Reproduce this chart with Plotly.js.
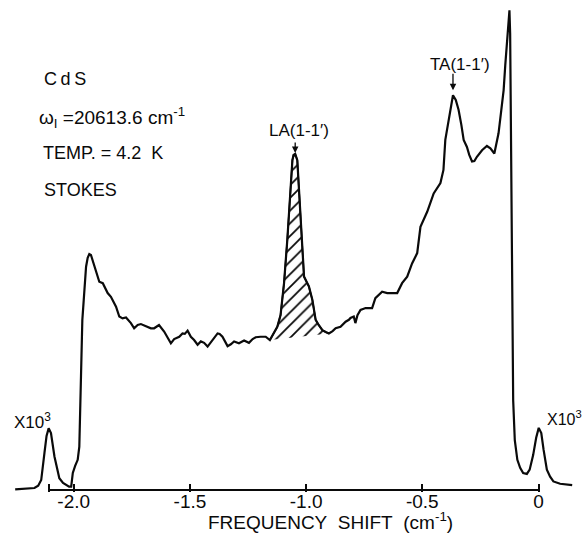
<!DOCTYPE html>
<html>
<head>
<meta charset="utf-8">
<script src="https://cdn.plot.ly/plotly-3.0.1.min.js"></script>
<style>
  html, body { margin: 0; padding: 0; background: #fff; }
  #chart { width: 583px; height: 533px; }
</style>
</head>
<body>
<div id="chart"></div>
<script>
// Stokes Brillouin spectrum of CdS (frequency shift in cm^-1, intensity in arbitrary units)
const shiftCm = [
  -2.252, -2.205, -2.169, -2.153, -2.140, -2.126, -2.117, -2.108, -2.098, -2.083,
  -2.072, -2.062, -2.046, -2.033, -2.020, -2.011, -2.004, -1.994, -1.983, -1.976,
  -1.973, -1.968, -1.963, -1.957, -1.947, -1.940, -1.933, -1.926, -1.919, -1.905,
  -1.890, -1.875, -1.854, -1.840, -1.818, -1.804, -1.790, -1.775, -1.754, -1.740,
  -1.725, -1.711, -1.690, -1.668, -1.654, -1.643, -1.633, -1.611, -1.595, -1.582,
  -1.568, -1.546, -1.532, -1.522, -1.510, -1.496, -1.482, -1.467, -1.453, -1.439,
  -1.424, -1.403, -1.381, -1.372, -1.360, -1.338, -1.324, -1.310, -1.289, -1.267,
  -1.246, -1.230, -1.217, -1.196, -1.174, -1.156, -1.140, -1.124, -1.110, -1.095,
  -1.081, -1.067, -1.059, -1.054, -1.047, -1.038, -1.031, -1.019, -1.009, -0.998,
  -0.988, -0.973, -0.959, -0.946, -0.930, -0.916, -0.902, -0.886, -0.873, -0.852,
  -0.838, -0.830, -0.816, -0.809, -0.795, -0.788, -0.779, -0.766, -0.744, -0.716,
  -0.702, -0.689, -0.673, -0.651, -0.628, -0.608, -0.587, -0.565, -0.544, -0.522,
  -0.508, -0.479, -0.451, -0.422, -0.409, -0.401, -0.390, -0.379, -0.368, -0.356,
  -0.344, -0.332, -0.322, -0.308, -0.298, -0.286, -0.276, -0.265, -0.243, -0.222,
  -0.207, -0.190, -0.182, -0.172, -0.160, -0.150, -0.143, -0.136, -0.129, -0.125,
  -0.122, -0.119, -0.116, -0.113, -0.109, -0.102, -0.091, -0.079, -0.066, -0.050,
  -0.038, -0.023, -0.010, 0.001, 0.012, 0.022, 0.036, 0.050, 0.064, 0.093,
  0.128, 0.145
];
const intensity = [
  0.1, 0.2, 0.4, 0.9, 2.1, 7.9, 11.5, 13.1, 12.1, 7.1,
  4.3, 2.5, 1.5, 1.1, 0.7, 0.7, 3.6, 5.1, 6.4, 9.2,
  14.9, 28.4, 36.2, 40.4, 47.5, 49.4, 50.2, 50.0, 48.9, 46.4,
  44.3, 44.0, 41.9, 41.1, 39.0, 36.9, 36.5, 36.7, 35.5, 34.4,
  35.1, 35.3, 34.9, 34.4, 34.4, 34.8, 35.1, 33.7, 32.3, 31.2,
  32.1, 32.6, 33.3, 33.2, 33.9, 32.6, 31.9, 30.9, 31.6, 31.3,
  30.5, 31.9, 33.3, 33.2, 32.6, 30.6, 31.0, 31.6, 31.2, 31.8,
  31.3, 32.1, 32.5, 32.6, 32.6, 31.9, 33.2, 34.7, 37.2, 44.0,
  53.2, 65.3, 70.2, 71.3, 71.5, 70.2, 63.8, 53.2, 45.4, 44.3,
  43.3, 40.4, 36.2, 35.1, 34.0, 33.6, 33.3, 33.8, 34.4, 34.7,
  35.5, 35.8, 36.2, 36.6, 36.9, 35.5, 37.2, 38.3, 38.7, 38.7,
  40.8, 41.5, 42.2, 41.9, 41.9, 41.9, 44.0, 45.4, 48.2, 50.4,
  56.0, 59.2, 63.1, 65.3, 68.1, 74.5, 77.7, 80.9, 84.0, 83.0,
  80.9, 77.7, 74.5, 73.0, 71.3, 69.9, 70.0, 70.9, 72.3, 73.2,
  72.7, 71.6, 73.4, 75.9, 80.9, 85.1, 90.4, 95.0, 101.4, 102.1,
  97.2, 78.7, 54.7, 34.0, 19.1, 10.6, 6.4, 4.7, 3.6, 3.4,
  4.3, 7.4, 11.1, 13.2, 12.1, 8.5, 4.3, 2.8, 1.8, 1.3,
  1.1, 1.0
];

// Shaded LA(1-1') band: curve between these shifts, closed by a straight base line
const laBand = [-1.156, -0.902];
// Search windows for the two labelled peaks
const laWindow = [-1.2, -0.9];
const taWindow = [-0.5, -0.3];

// Frequency-shift axis
const tickVals = [-2.106, -2.0, -1.5, -1.0, -0.5, 0];
const tickText = ['', '-2.0', '-1.5', '-1.0', '-0.5', '0'];
const axisSpan = [-2.106, 0];

function peakIn(win) {
  let best = -1;
  for (let i = 0; i < shiftCm.length; i++) {
    if (shiftCm[i] >= win[0] && shiftCm[i] <= win[1] &&
        (best < 0 || intensity[i] > intensity[best])) best = i;
  }
  return {x: shiftCm[best], y: intensity[best]};
}

const bandX = [], bandY = [];
shiftCm.forEach((x, i) => {
  if (x >= laBand[0] - 1e-9 && x <= laBand[1] + 1e-9) { bandX.push(x); bandY.push(intensity[i]); }
});

const la = peakIn(laWindow);
const ta = peakIn(taWindow);

const FONT = 'Liberation Sans, Arial, sans-serif';
const INK = '#0a0a0a';

const traces = [
  {
    x: bandX, y: bandY, type: 'scatter', mode: 'lines',
    fill: 'toself', fillcolor: 'rgba(0,0,0,0)',
    fillpattern: {shape: '/', size: 9, solidity: 0.2, fgcolor: INK, bgcolor: 'rgba(0,0,0,0)'},
    line: {color: INK, width: 1.6}, hoverinfo: 'skip', showlegend: false
  },
  {
    x: shiftCm, y: intensity, type: 'scatter', mode: 'lines',
    line: {color: INK, width: 2.2}, showlegend: false
  }
];

function note(text, x, y, size, extra) {
  return Object.assign({
    text: text, x: x, y: y, xref: 'paper', yref: 'paper',
    xanchor: 'left', yanchor: 'middle', showarrow: false,
    font: {family: FONT, size: size, color: INK}
  }, extra || {});
}

const annotations = [
  note('C\u2009d\u2009S', 0.0545, 0.850, 18),
  note('ω<sub>I</sub> =20613.6 cm<sup>-1</sup>', 0.046, 0.770, 19),
  note('TEMP. = 4.2\u00a0 K', 0.0528, 0.697, 18),
  note('STOKES', 0.055, 0.621, 18),
  note('X10<sup>3</sup>', 0.002, 0.146, 17),
  note('X10<sup>3</sup>', 0.941, 0.152, 16),
  note('FREQUENCY\u00a0 SHIFT\u00a0 (cm<sup>-1</sup>)', 0.564, -0.060, 19, {xanchor: 'center'}),
  // peak labels and their arrows
  {text: 'LA(1-1\u2032)', x: la.x, y: la.y, xref: 'x', yref: 'y', showarrow: false,
   xanchor: 'center', yanchor: 'middle', xshift: 4, yshift: 23,
   font: {family: FONT, size: 17, color: INK}},
  {text: '', x: la.x, y: la.y, xref: 'x', yref: 'y', showarrow: true,
   ax: 0, ay: -13, standoff: 1, arrowhead: 2, arrowsize: 1, arrowwidth: 1.3, arrowcolor: INK},
  {text: 'TA(1-1\u2032)', x: ta.x, y: ta.y, xref: 'x', yref: 'y', showarrow: false,
   xanchor: 'center', yanchor: 'middle', xshift: 7, yshift: 31,
   font: {family: FONT, size: 17, color: INK}},
  {text: '', x: ta.x, y: ta.y, xref: 'x', yref: 'y', showarrow: true,
   ax: 0, ay: -23, standoff: 5, arrowhead: 2, arrowsize: 1, arrowwidth: 1.3, arrowcolor: INK}
];

const layout = {
  width: 583, height: 533,
  margin: {l: 11, r: 5, t: 6, b: 41},
  paper_bgcolor: '#fff', plot_bgcolor: '#fff',
  showlegend: false,
  xaxis: {
    range: [-2.27, 0.17], showgrid: false, zeroline: false, showline: false,
    tickmode: 'array', tickvals: tickVals, ticktext: tickText,
    ticks: 'inside', ticklen: 8, tickwidth: 2, tickcolor: INK,
    ticklabelstandoff: -4,
    tickfont: {family: FONT, size: 19, color: INK}
  },
  yaxis: {range: [-0.45, 103], visible: false, fixedrange: true},
  shapes: [
    {type: 'line', xref: 'x', yref: 'y', x0: axisSpan[0], x1: axisSpan[1], y0: 0, y1: 0,
     line: {color: INK, width: 2}}
  ],
  annotations: annotations
};

Plotly.newPlot('chart', traces, layout, {displayModeBar: false, staticPlot: true});
</script>
</body>
</html>
